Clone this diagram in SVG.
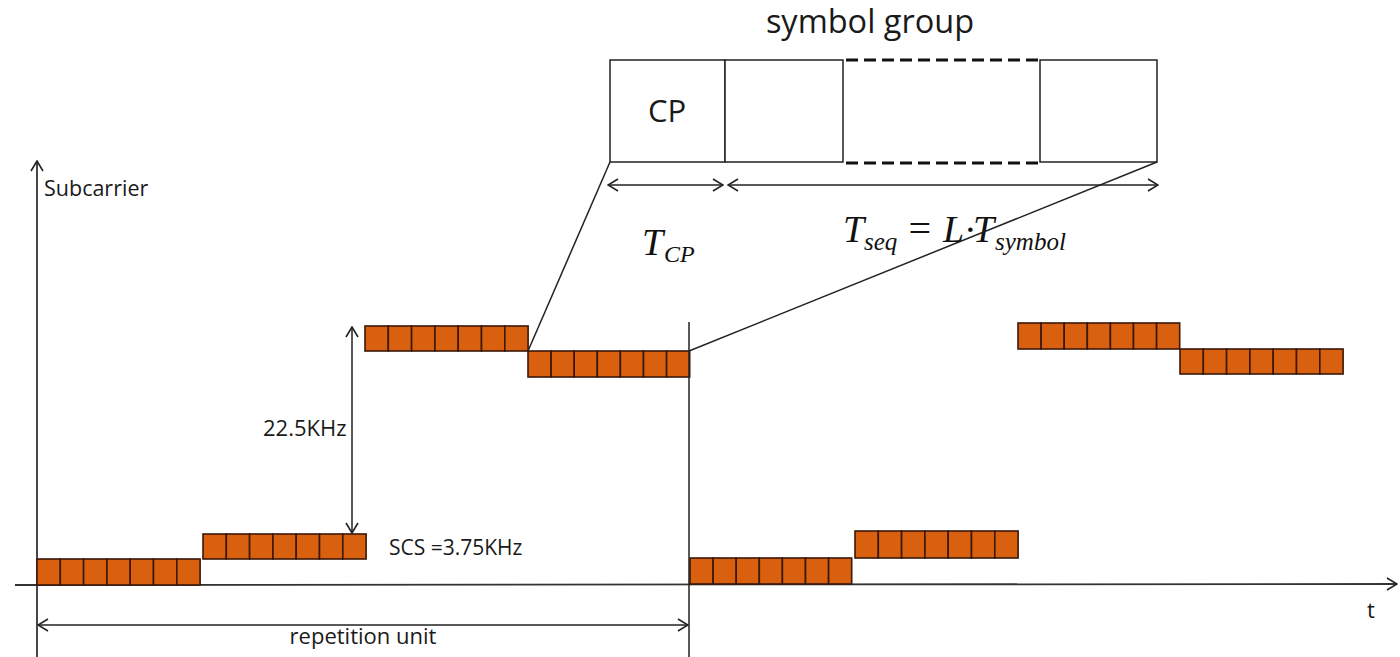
<svg xmlns="http://www.w3.org/2000/svg" width="1400" height="657" viewBox="0 0 1400 657">
<style>
.ln{stroke:#222;stroke-width:1.5;fill:none}
.ax{stroke:#333;stroke-width:1.8;fill:none}
.cell{fill:#D9600F;stroke:#3a1808;stroke-width:1.6}
.box{fill:#fff;stroke:#222;stroke-width:1.5}
.dash{stroke:#111;stroke-width:3;stroke-dasharray:12 6;fill:none}
.lbl{font-family:"Open Sans","Liberation Sans",sans-serif;fill:#1a1a1a}
.math{font-family:"Liberation Serif","Times New Roman",serif;font-style:italic;fill:#111}
</style>
<defs>
<marker id="oa" viewBox="0 0 12 14" refX="11" refY="7" markerWidth="12" markerHeight="14" markerUnits="userSpaceOnUse" orient="auto-start-reverse">
<path d="M1,1 L11,7 L1,13" fill="none" stroke="#222" stroke-width="1.6"/>
</marker>
</defs>
<rect width="1400" height="657" fill="#fff"/>

<g id="axes">
<line class="ax" x1="37" y1="657" x2="37" y2="161" marker-end="url(#oa)"/>
<line class="ax" x1="15" y1="585" x2="1397" y2="584" marker-end="url(#oa)"/>
<text class="lbl" x="44" y="196" font-size="21.5">Subcarrier</text>
<text class="lbl" x="1367" y="618" font-size="22">t</text>
</g>

<g id="bar1">
<rect class="cell" x="37" y="559" width="23.3" height="26"/><rect class="cell" x="60.3" y="559" width="23.3" height="26"/><rect class="cell" x="83.6" y="559" width="23.3" height="26"/><rect class="cell" x="106.9" y="559" width="23.3" height="26"/><rect class="cell" x="130.2" y="559" width="23.3" height="26"/><rect class="cell" x="153.5" y="559" width="23.3" height="26"/><rect class="cell" x="176.8" y="559" width="23.3" height="26"/>
</g>
<g id="bar2">
<rect class="cell" x="203" y="534" width="23.3" height="25"/><rect class="cell" x="226.3" y="534" width="23.3" height="25"/><rect class="cell" x="249.6" y="534" width="23.3" height="25"/><rect class="cell" x="272.9" y="534" width="23.3" height="25"/><rect class="cell" x="296.2" y="534" width="23.3" height="25"/><rect class="cell" x="319.5" y="534" width="23.3" height="25"/><rect class="cell" x="342.8" y="534" width="23.3" height="25"/>
</g>
<g id="bar3">
<rect class="cell" x="365" y="326" width="23.3" height="25"/><rect class="cell" x="388.3" y="326" width="23.3" height="25"/><rect class="cell" x="411.6" y="326" width="23.3" height="25"/><rect class="cell" x="434.9" y="326" width="23.3" height="25"/><rect class="cell" x="458.2" y="326" width="23.3" height="25"/><rect class="cell" x="481.5" y="326" width="23.3" height="25"/><rect class="cell" x="504.8" y="326" width="23.3" height="25"/>
</g>
<g id="bar4">
<rect class="cell" x="528" y="351" width="23.1" height="26"/><rect class="cell" x="551.1" y="351" width="23.1" height="26"/><rect class="cell" x="574.2" y="351" width="23.1" height="26"/><rect class="cell" x="597.3" y="351" width="23.1" height="26"/><rect class="cell" x="620.4" y="351" width="23.1" height="26"/><rect class="cell" x="643.5" y="351" width="23.1" height="26"/><rect class="cell" x="666.6" y="351" width="23.1" height="26"/>
</g>
<g id="bar5">
<rect class="cell" x="690" y="558" width="23.1" height="26"/><rect class="cell" x="713.1" y="558" width="23.1" height="26"/><rect class="cell" x="736.2" y="558" width="23.1" height="26"/><rect class="cell" x="759.3" y="558" width="23.1" height="26"/><rect class="cell" x="782.4" y="558" width="23.1" height="26"/><rect class="cell" x="805.5" y="558" width="23.1" height="26"/><rect class="cell" x="828.6" y="558" width="23.1" height="26"/>
</g>
<g id="bar6">
<rect class="cell" x="855" y="531" width="23.3" height="27"/><rect class="cell" x="878.3" y="531" width="23.3" height="27"/><rect class="cell" x="901.6" y="531" width="23.3" height="27"/><rect class="cell" x="924.9" y="531" width="23.3" height="27"/><rect class="cell" x="948.2" y="531" width="23.3" height="27"/><rect class="cell" x="971.5" y="531" width="23.3" height="27"/><rect class="cell" x="994.8" y="531" width="23.3" height="27"/>
</g>
<g id="bar7">
<rect class="cell" x="1018" y="323" width="23.1" height="26"/><rect class="cell" x="1041.1" y="323" width="23.1" height="26"/><rect class="cell" x="1064.2" y="323" width="23.1" height="26"/><rect class="cell" x="1087.3" y="323" width="23.1" height="26"/><rect class="cell" x="1110.4" y="323" width="23.1" height="26"/><rect class="cell" x="1133.5" y="323" width="23.1" height="26"/><rect class="cell" x="1156.6" y="323" width="23.1" height="26"/>
</g>
<g id="bar8">
<rect class="cell" x="1180" y="349" width="23.3" height="25"/><rect class="cell" x="1203.3" y="349" width="23.3" height="25"/><rect class="cell" x="1226.6" y="349" width="23.3" height="25"/><rect class="cell" x="1249.9" y="349" width="23.3" height="25"/><rect class="cell" x="1273.2" y="349" width="23.3" height="25"/><rect class="cell" x="1296.5" y="349" width="23.3" height="25"/><rect class="cell" x="1319.8" y="349" width="23.3" height="25"/>
</g>

<g id="symbol-group">
<text class="lbl" x="870" y="33" font-size="32.5" text-anchor="middle">symbol group</text>
<rect class="box" x="610" y="60" width="115" height="102"/>
<rect class="box" x="725" y="60" width="118" height="102"/>
<line class="dash" x1="846" y1="60" x2="1040" y2="60"/>
<line class="dash" x1="846" y1="163" x2="1040" y2="163"/>
<rect class="box" x="1040" y="60" width="117" height="102"/>
<text class="lbl" x="667" y="122" font-size="31" text-anchor="middle">CP</text>
</g>

<g id="labels">
<text class="lbl" x="263" y="436" font-size="22">22.5KHz</text>
<text class="lbl" x="389" y="555" font-size="21">SCS =3.75KHz</text>
<text class="lbl" x="363" y="644" font-size="22" text-anchor="middle">repetition unit</text>
<text class="math" x="642" y="255" font-size="38">T</text>
<text class="math" x="664" y="262" font-size="24">CP</text>
<text class="math" x="843" y="242" font-size="38">T</text>
<text class="math" x="864" y="250" font-size="25">seq</text>
<text class="math" x="906" y="242" font-size="40" font-style="normal">=</text>
<text class="math" x="943" y="242" font-size="38">L</text>
<text class="math" x="965" y="242" font-size="38" font-style="normal">·</text>
<text class="math" x="973" y="242" font-size="38">T</text>
<text class="math" x="995" y="250" font-size="25">symbol</text>
</g>

<g id="connectors">
<line class="ln" x1="689" y1="322" x2="689" y2="657"/>
<line class="ln" x1="610" y1="162" x2="528" y2="351"/>
<line class="ln" x1="1157" y1="162" x2="689" y2="351"/>
<line class="ln" x1="352" y1="430" x2="352" y2="327" marker-end="url(#oa)"/>
<line class="ln" x1="352" y1="430" x2="352" y2="533" marker-end="url(#oa)"/>
<line class="ln" x1="363" y1="625" x2="38" y2="625" marker-end="url(#oa)"/>
<line class="ln" x1="363" y1="625" x2="688" y2="625" marker-end="url(#oa)"/>
<line class="ln" x1="665" y1="185" x2="608" y2="185" marker-end="url(#oa)"/>
<line class="ln" x1="665" y1="185" x2="723" y2="185" marker-end="url(#oa)"/>
<line class="ln" x1="940" y1="185" x2="728" y2="185" marker-end="url(#oa)"/>
<line class="ln" x1="940" y1="185" x2="1158" y2="185" marker-end="url(#oa)"/>
</g>
</svg>
